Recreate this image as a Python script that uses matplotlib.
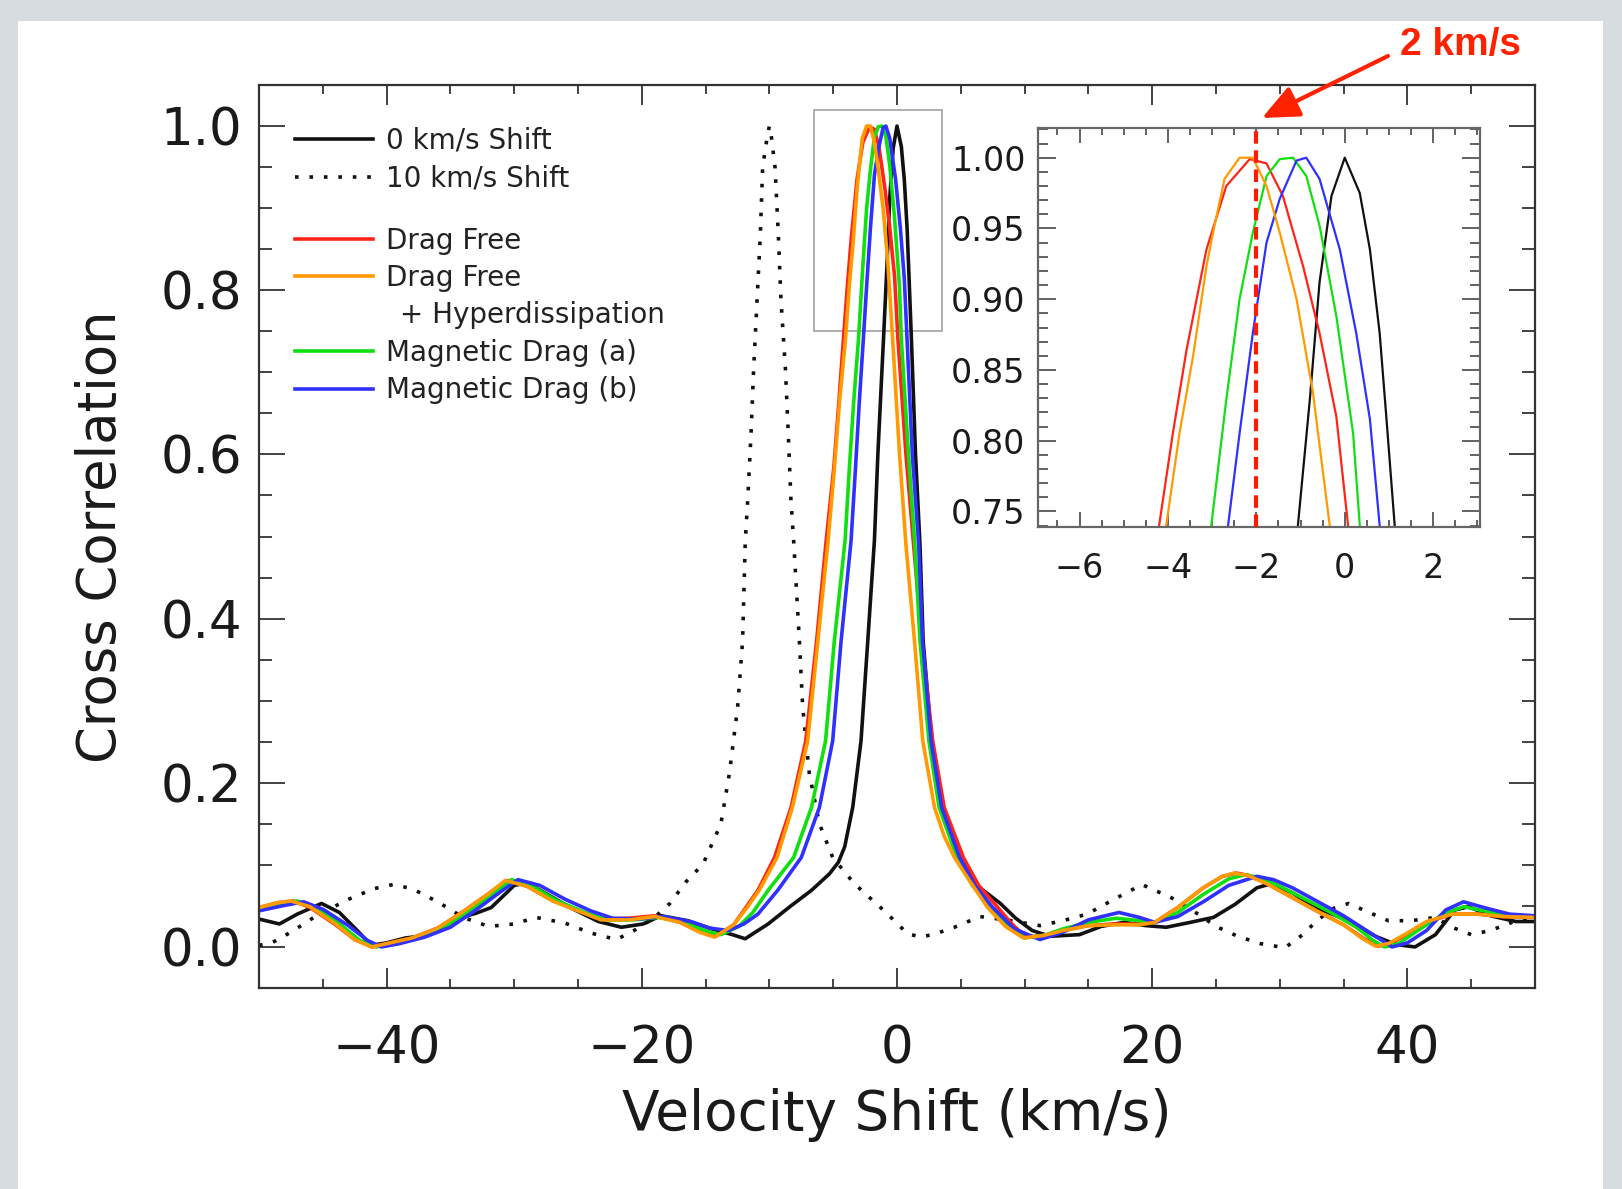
import matplotlib
matplotlib.use("Agg")
import matplotlib.pyplot as plt
from matplotlib.lines import Line2D
from matplotlib.patches import Rectangle, FancyArrowPatch
from matplotlib.ticker import MultipleLocator, FormatStrFormatter

# (velocity shift km/s, cross correlation)
shift0_pts = [
    (-50, 0.034), (-48.4, 0.028), (-47, 0.040), (-45.1, 0.053), (-43.7, 0.042),
    (-42.3, 0.020), (-41.2, 0.002), (-40, 0.005), (-38.5, 0.011), (-37.4, 0.013),
    (-36, 0.020), (-34.2, 0.036), (-33, 0.041), (-31.8, 0.048), (-30, 0.075),
    (-29, 0.078), (-27.5, 0.065), (-25.5, 0.047), (-23.4, 0.031), (-21.6, 0.024),
    (-19.9, 0.028), (-18.5, 0.038), (-16.4, 0.032), (-14.5, 0.022), (-12.9, 0.015),
    (-11.9, 0.010), (-10.1, 0.028), (-8.4, 0.049), (-6.7, 0.069), (-5.3, 0.089),
    (-4.6, 0.103), (-4.1, 0.122), (-3.47, 0.170), (-2.82, 0.251), (-2.29, 0.373),
    (-1.77, 0.495), (-1.5, 0.600), (-1.25, 0.680), (-1.06, 0.740), (-0.79, 0.829),
    (-0.57, 0.912), (-0.30, 0.973), (0.0, 1.0), (0.34, 0.975), (0.57, 0.935),
    (0.79, 0.876), (0.94, 0.817), (1.13, 0.740), (1.45, 0.600), (1.8, 0.490),
    (2.05, 0.373), (2.7, 0.251), (3.5, 0.170), (4.9, 0.109), (6.5, 0.072),
    (8.1, 0.053), (9.3, 0.035), (10.6, 0.020), (12, 0.013), (14.3, 0.015),
    (16, 0.025), (17.8, 0.030), (19.5, 0.026), (21.1, 0.024), (23, 0.030),
    (24.8, 0.036), (26.5, 0.052), (28.2, 0.072), (29.3, 0.077), (31, 0.066),
    (32.5, 0.050), (33.8, 0.042), (35.5, 0.031), (37.5, 0.013), (39.1, 0.003),
    (40.6, 0.0), (42.2, 0.015), (43.7, 0.045), (44.8, 0.049), (46.5, 0.038),
    (48.5, 0.031), (50, 0.031),
]

shift10_pts = [
    (-50, 0.002), (-49, 0.005), (-47.5, 0.018), (-45.5, 0.038), (-43, 0.058),
    (-41, 0.071), (-39.5, 0.076), (-38, 0.071), (-36, 0.055), (-34, 0.036),
    (-32, 0.025), (-30, 0.028), (-28.3, 0.036), (-26, 0.029), (-24, 0.017),
    (-22, 0.009), (-20.6, 0.020), (-19, 0.036), (-17.8, 0.053), (-16.5, 0.080),
    (-15.2, 0.101), (-13.8, 0.150), (-13.14, 0.211), (-12.49, 0.292), (-12.1, 0.373),
    (-11.89, 0.495), (-11.7, 0.544), (-11.44, 0.625), (-11.23, 0.706), (-10.97, 0.787),
    (-10.71, 0.868), (-10.53, 0.950), (-10.14, 0.990), (-10.0, 1.0), (-9.87, 0.990),
    (-9.56, 0.950), (-9.3, 0.868), (-9.09, 0.787), (-8.75, 0.706), (-8.52, 0.625),
    (-8.31, 0.544), (-8.1, 0.495), (-7.65, 0.373), (-7.39, 0.292), (-6.87, 0.211),
    (-6.08, 0.150), (-5.04, 0.109), (-3.34, 0.077), (-2, 0.058), (-1, 0.044),
    (0.84, 0.016), (1.89, 0.012), (3, 0.016), (4.5, 0.024), (6.5, 0.037),
    (8.5, 0.033), (11.2, 0.026), (13, 0.032), (14.9, 0.040), (17, 0.058),
    (19.2, 0.076), (21.5, 0.060), (23.6, 0.040), (25, 0.025), (26.7, 0.013),
    (28.5, 0.004), (30.4, -0.001), (31.8, 0.015), (32.9, 0.032), (34.2, 0.047),
    (35.4, 0.053), (37, 0.042), (38.5, 0.032), (40.3, 0.032), (42.2, 0.036),
    (43.5, 0.024), (45, 0.015), (46.5, 0.020), (48.2, 0.030), (50, 0.036),
]

drag_free_pts = [
    (-50, 0.048), (-48.5, 0.054), (-47.3, 0.056), (-46, 0.048), (-44, 0.027),
    (-42.5, 0.009), (-41.1, 0.0), (-40, 0.004), (-38, 0.011), (-36, 0.023),
    (-34, 0.043), (-32, 0.065), (-30.5, 0.081), (-29, 0.074), (-27, 0.057),
    (-25, 0.044), (-23.2, 0.034), (-21, 0.035), (-19, 0.038), (-17, 0.030),
    (-15.5, 0.019), (-14.2, 0.013), (-12.8, 0.027), (-11.8, 0.049), (-10.9, 0.069),
    (-9.6, 0.109), (-8.3, 0.170), (-7.15, 0.251), (-6.3, 0.373), (-5.55, 0.495),
    (-4.95, 0.584), (-4.55, 0.665), (-4.2, 0.740), (-3.89, 0.805), (-3.58, 0.864),
    (-3.13, 0.935), (-2.68, 0.980), (-2.15, 0.999), (-1.77, 0.996), (-1.4, 0.973),
    (-0.94, 0.923), (-0.57, 0.876), (-0.19, 0.817), (0.075, 0.740), (0.7, 0.600),
    (1.3, 0.490), (1.95, 0.373), (2.8, 0.251), (3.7, 0.170), (5.2, 0.109),
    (6.4, 0.075), (7.9, 0.048), (9.0, 0.028), (10.1, 0.012), (11.5, 0.014),
    (13, 0.020), (15, 0.026), (17, 0.028), (19, 0.028), (20.2, 0.030),
    (22, 0.048), (24, 0.072), (25.5, 0.086), (26.6, 0.090), (27.6, 0.087),
    (29, 0.077), (31, 0.060), (33, 0.043), (35, 0.027), (36.6, 0.010),
    (37.7, 0.001), (38.7, 0.004), (40, 0.016), (41.5, 0.030), (43.5, 0.040),
    (45.5, 0.040), (47.5, 0.037), (50, 0.036),
]

hyperdiss_pts = [
    (-50, 0.048), (-48.5, 0.054), (-47.5, 0.056), (-46, 0.049), (-44, 0.028),
    (-42.5, 0.009), (-41.2, 0.0), (-40, 0.004), (-38, 0.011), (-36, 0.023),
    (-34, 0.043), (-32, 0.065), (-30.7, 0.081), (-29, 0.074), (-27, 0.056),
    (-25, 0.044), (-23.2, 0.033), (-21, 0.033), (-19, 0.037), (-17, 0.030),
    (-15.5, 0.018), (-14.3, 0.012), (-12.8, 0.027), (-11.7, 0.049), (-10.8, 0.069),
    (-9.4, 0.109), (-8.2, 0.170), (-7.0, 0.251), (-6.2, 0.373), (-5.4, 0.495),
    (-4.9, 0.584), (-4.5, 0.665), (-4.04, 0.740), (-3.74, 0.805), (-3.43, 0.860),
    (-3.13, 0.923), (-2.98, 0.947), (-2.72, 0.985), (-2.38, 1.0), (-2.08, 1.0),
    (-1.77, 0.980), (-1.47, 0.947), (-1.09, 0.900), (-0.72, 0.834), (-0.34, 0.740),
    (0.2, 0.600), (0.7, 0.490), (1.37, 0.373), (2.02, 0.251), (2.94, 0.170),
    (3.7, 0.135), (4.5, 0.109), (5.5, 0.085), (7.1, 0.048), (8.5, 0.025),
    (9.9, 0.011), (11.5, 0.014), (13, 0.020), (15, 0.026), (17, 0.027),
    (19, 0.027), (20.2, 0.030), (22, 0.048), (24, 0.072), (25.5, 0.086),
    (26.4, 0.090), (27.5, 0.087), (29, 0.077), (31, 0.060), (33, 0.043),
    (35, 0.027), (36.5, 0.010), (37.5, 0.001), (38.5, 0.004), (40, 0.017),
    (41.5, 0.031), (43.5, 0.040), (45.5, 0.040), (47.5, 0.037), (50, 0.036),
]

mag_a_pts = [
    (-50, 0.046), (-48.2, 0.053), (-47.0, 0.056), (-45.6, 0.048), (-43.6, 0.027),
    (-42.1, 0.008), (-40.8, 0.0), (-39.6, 0.004), (-37.6, 0.011), (-35.6, 0.023),
    (-33.6, 0.043), (-31.6, 0.065), (-30.2, 0.082), (-28.6, 0.074), (-26.6, 0.056),
    (-24.6, 0.043), (-22.8, 0.033), (-20.6, 0.033), (-18.6, 0.036), (-16.6, 0.030),
    (-15.1, 0.020), (-13.8, 0.015), (-12.4, 0.025), (-11.3, 0.042), (-10.1, 0.069),
    (-8.1, 0.109), (-6.7, 0.170), (-5.6, 0.251), (-4.91, 0.373), (-4.07, 0.495),
    (-3.73, 0.584), (-3.39, 0.665), (-3.02, 0.740), (-2.68, 0.829), (-2.38, 0.900),
    (-2.08, 0.947), (-1.77, 0.987), (-1.47, 0.999), (-1.17, 1.0), (-0.87, 0.987),
    (-0.57, 0.952), (-0.19, 0.888), (0.19, 0.805), (0.34, 0.740), (0.9, 0.600),
    (1.4, 0.490), (1.8, 0.373), (2.5, 0.251), (3.3, 0.170), (4.7, 0.109),
    (5.9, 0.075), (7.4, 0.048), (8.7, 0.025), (10.0, 0.011), (11.5, 0.014),
    (13, 0.022), (15, 0.030), (17.2, 0.035), (19, 0.032), (20.2, 0.030),
    (22, 0.042), (24, 0.064), (26, 0.083), (27.3, 0.088), (28.5, 0.084),
    (30, 0.074), (32, 0.058), (34, 0.042), (36, 0.024), (37.3, 0.008),
    (38.2, 0.0), (39.3, 0.004), (41, 0.022), (42.8, 0.040), (44.4, 0.049),
    (46, 0.044), (48, 0.038), (50, 0.037),
]

mag_b_pts = [
    (-50, 0.044), (-48.2, 0.050), (-46.5, 0.055), (-45, 0.046), (-43, 0.026),
    (-41.5, 0.008), (-40.4, 0.0), (-39, 0.004), (-37, 0.012), (-35, 0.024),
    (-33, 0.045), (-31, 0.068), (-29.7, 0.082), (-28, 0.075), (-26, 0.058),
    (-24, 0.044), (-22.3, 0.035), (-20.2, 0.034), (-18.3, 0.037), (-16.2, 0.031),
    (-14.7, 0.023), (-13.2, 0.020), (-12, 0.028), (-10.9, 0.040), (-9.35, 0.069),
    (-7.5, 0.109), (-6.08, 0.170), (-5.04, 0.251), (-4.38, 0.373), (-3.6, 0.495),
    (-3.25, 0.584), (-2.95, 0.665), (-2.64, 0.740), (-2.38, 0.805), (-2.08, 0.876),
    (-1.77, 0.940), (-1.47, 0.971), (-1.09, 0.998), (-0.87, 1.0), (-0.57, 0.985),
    (-0.11, 0.935), (0.26, 0.876), (0.57, 0.815), (0.79, 0.740), (1.2, 0.600),
    (1.7, 0.490), (2.0, 0.373), (2.67, 0.251), (3.5, 0.170), (4.9, 0.109),
    (6.1, 0.075), (7.5, 0.048), (9.2, 0.022), (11.2, 0.009), (13, 0.018),
    (15, 0.033), (17.4, 0.042), (19, 0.036), (20.2, 0.030), (22, 0.037),
    (24, 0.055), (26, 0.075), (28.2, 0.086), (29.5, 0.082), (31, 0.072),
    (33, 0.055), (35, 0.038), (37, 0.018), (38.8, 0.0), (40, 0.005),
    (41.5, 0.020), (43, 0.045), (44.4, 0.055), (46, 0.048), (48, 0.040),
    (50, 0.038),
]

shift_labels = ["0 km/s Shift", "10 km/s Shift"]
model_labels = ["Drag Free", "Drag Free", "\u2002+ Hyperdissipation",
                "Magnetic Drag (a)", "Magnetic Drag (b)"]

BLACK = "#111111"
RED = "#ff2418"
ORANGE = "#ff9a00"
GREEN = "#10e010"
BLUE = "#3030ff"
DOTS = (0, (1, 3.0))

W, H = 1622, 1189


def unzip(pts):
    return [p[0] for p in pts], [p[1] for p in pts]


def fx(px):
    return px / W


def fy(px):
    return 1 - px / H


fig = plt.figure(figsize=(W / 100, H / 100), dpi=100, facecolor="#d7dce1")
fig.add_artist(Rectangle((fx(18), 0), fx(1603) - fx(18), fy(21),
                         transform=fig.transFigure, fc="white", ec="none", zorder=-1))

ax = fig.add_axes([fx(259), fy(988), (1535 - 259) / W, (988 - 85) / H])

solid_series = [
    (shift0_pts, BLACK),
    (drag_free_pts, RED),
    (mag_a_pts, GREEN),
    (mag_b_pts, BLUE),
    (hyperdiss_pts, ORANGE),
]

x, y = unzip(shift10_pts)
ax.plot(x, y, color=BLACK, lw=2.6, ls=DOTS)
for pts, col in solid_series:
    x, y = unzip(pts)
    ax.plot(x, y, color=col, lw=2.6, solid_joinstyle="round")

ax.add_patch(Rectangle((-6.5, 0.75), 10.0, 0.27, fill=False, ec="#a8a8a8", lw=1.3, zorder=1.5))

ax.set_xlim(-50, 50)
ax.set_ylim(-0.05, 1.05)
ax.xaxis.set_major_locator(MultipleLocator(20))
ax.xaxis.set_minor_locator(MultipleLocator(5))
ax.yaxis.set_major_locator(MultipleLocator(0.2))
ax.yaxis.set_minor_locator(MultipleLocator(0.05))
ax.yaxis.set_major_formatter(FormatStrFormatter("%.1f"))
ax.tick_params(which="both", direction="in", top=True, right=True, color="#333333", width=1.3,
               labelcolor="#1a1a1a")
ax.tick_params(axis="x", which="major", length=14.5, labelsize=37, pad=26)
ax.tick_params(axis="x", which="minor", length=6.5)
ax.tick_params(axis="y", which="major", length=18.5, labelsize=37, pad=12)
ax.tick_params(axis="y", which="minor", length=9.4)
for s in ax.spines.values():
    s.set_color("#333333")
    s.set_linewidth(1.6)
ax.set_xlabel("Velocity Shift (km/s)", fontsize=39.5, labelpad=10, color="#1a1a1a")
ax.set_ylabel("Cross Correlation", fontsize=38, labelpad=24, color="#1a1a1a")

# legend in two blocks, with a short gap between them
leg_kw = dict(loc="upper left", frameon=False, fontsize=20, handlelength=2.8,
              handletextpad=0.48, labelspacing=0.34, borderpad=0, borderaxespad=0)
shift_handles = [
    Line2D([], [], color=BLACK, lw=2.6),
    Line2D([], [], color=BLACK, lw=2.6, ls=DOTS),
]
model_handles = [
    Line2D([], [], color=RED, lw=2.6),
    Line2D([], [], color=ORANGE, lw=2.6),
    Line2D([], [], color="none"),
    Line2D([], [], color=GREEN, lw=2.6),
    Line2D([], [], color=BLUE, lw=2.6),
]
leg1 = ax.legend(shift_handles, shift_labels, bbox_to_anchor=(0.028, 0.9535), **leg_kw)
ax.add_artist(leg1)
leg2 = ax.legend(model_handles, model_labels, bbox_to_anchor=(0.028, 0.8432), **leg_kw)
for lg in (leg1, leg2):
    for t in lg.get_texts():
        t.set_color("#222222")

# inset zoom on the peaks
axi = fig.add_axes([fx(1038), fy(527), (1480 - 1038) / W, (527 - 128) / H])
for pts, col in solid_series:
    x, y = unzip(pts)
    axi.plot(x, y, color=col, lw=1.6)
axi.axvline(-2, color="#ff1a00", lw=3, ls=(0, (3, 1.6)), zorder=5)
axi.set_xlim(-6.94, 3.06)
axi.set_ylim(0.739, 1.021)
axi.xaxis.set_major_locator(MultipleLocator(2))
axi.xaxis.set_minor_locator(MultipleLocator(0.5))
axi.yaxis.set_major_locator(MultipleLocator(0.05))
axi.yaxis.set_minor_locator(MultipleLocator(0.01))
axi.yaxis.set_major_formatter(FormatStrFormatter("%.2f"))
axi.tick_params(which="both", direction="in", top=True, right=True, color="#555555", width=1.3,
                labelcolor="#1a1a1a", labelsize=24)
axi.tick_params(axis="x", which="major", length=10.8, pad=18)
axi.tick_params(axis="x", which="minor", length=5)
axi.tick_params(axis="y", which="major", length=13, pad=9)
axi.tick_params(axis="y", which="minor", length=7)
for s in axi.spines.values():
    s.set_color("#666666")
    s.set_linewidth(1.6)

# red annotation
fig.text(fx(1460), fy(45), "2 km/s", ha="center", va="center", color="#ff2200",
         fontsize=28, fontweight="bold", family="Liberation Sans")
fig.add_artist(FancyArrowPatch((fx(1388), fy(56)), (fx(1262), fy(118)),
                               transform=fig.transFigure, color="#ff2200", lw=3,
                               arrowstyle="-|>,head_length=0.9,head_width=0.4",
                               mutation_scale=25, shrinkA=0, shrinkB=0))

fig.savefig("out.png", dpi=100, facecolor=fig.get_facecolor())
